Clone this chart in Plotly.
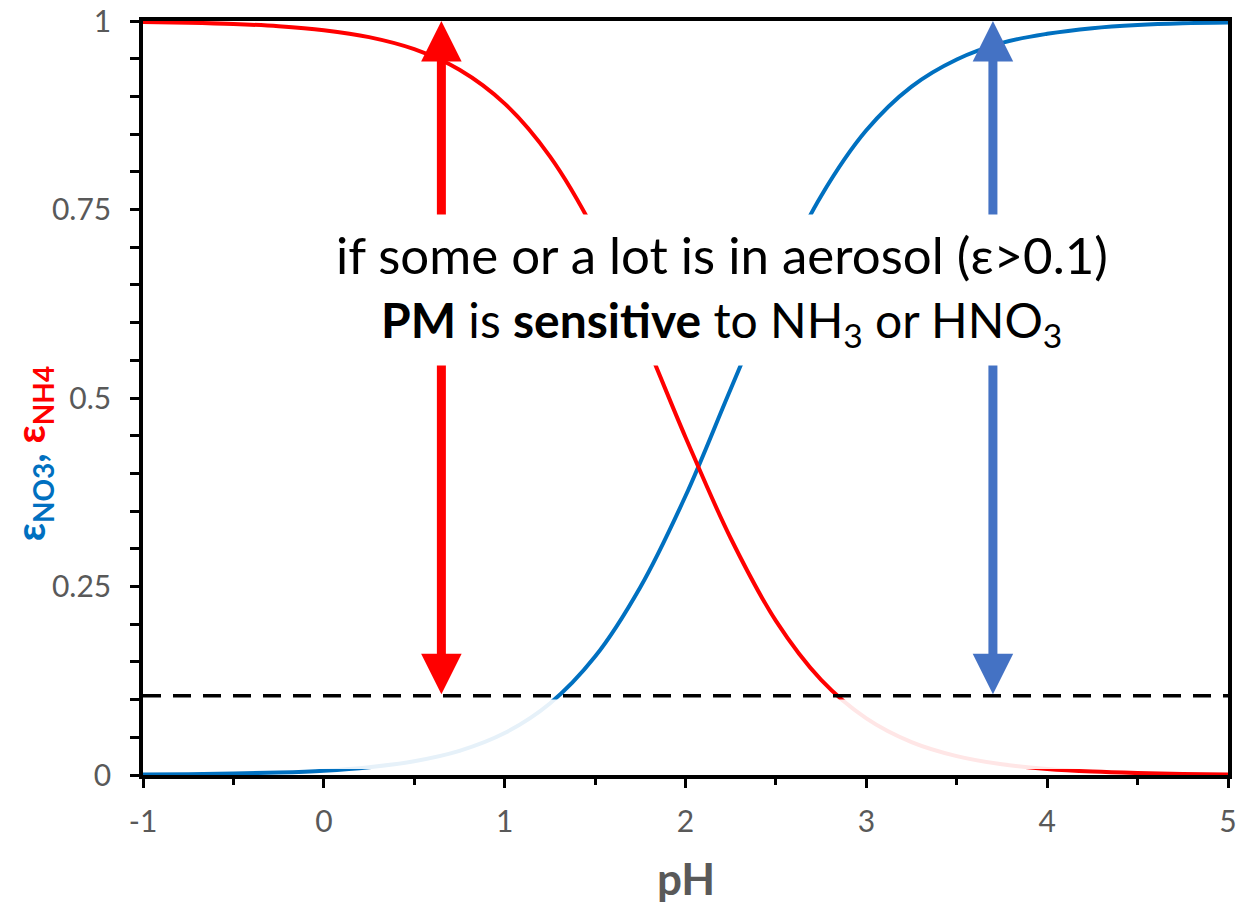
import plotly.graph_objects as go

# ---- data ----
ph = [-1.0, -0.75, -0.5, -0.25, 0.0, 0.25, 0.5, 0.75, 1.0, 1.25, 1.5, 1.75, 2.0,
      2.25, 2.5, 2.75, 3.0, 3.25, 3.5, 3.75, 4.0, 4.25, 4.5, 4.75, 5.0]
eps_no3 = [0.0006, 0.0011, 0.0019, 0.0033, 0.0058, 0.0104, 0.0183, 0.032, 0.0556,
           0.0948, 0.157, 0.249, 0.370, 0.512, 0.651, 0.768, 0.855, 0.913, 0.949,
           0.971, 0.983, 0.9905, 0.9947, 0.997, 0.998]
eps_nh4 = [0.9988, 0.9978, 0.9961, 0.9931, 0.9878, 0.9786, 0.9626, 0.9353, 0.8904,
           0.8205, 0.720, 0.591, 0.448, 0.314, 0.2045, 0.1263, 0.0752, 0.0437,
           0.0251, 0.0142, 0.0081, 0.00455, 0.00256, 0.00144, 0.0008]
threshold_x = [-1, 5]
threshold_y = [0.105, 0.105]
arrow_ph = [0.65, 3.7]
x_tickvals = [-1, 0, 1, 2, 3, 4, 5]
x_ticktext = ["-1", "0", "1", "2", "3", "4", "5"]
y_tickvals = [0, 0.25, 0.5, 0.75, 1]
y_ticktext = ["0", "0.25", "0.5", "0.75", "1"]

BLUE = "#0070C0"
RED = "#FF0000"
ARROW_BLUE = "#4472C4"
GRAY = "#595959"
FONT = "Lato"

fig = go.Figure()
fig.add_trace(go.Scatter(x=ph, y=eps_no3, mode="lines", line=dict(color=BLUE, width=4, shape="spline"),
                         showlegend=False, hoverinfo="skip"))
fig.add_trace(go.Scatter(x=ph, y=eps_nh4, mode="lines", line=dict(color=RED, width=4, shape="spline"),
                         showlegend=False, hoverinfo="skip"))
fig.add_trace(go.Scatter(x=threshold_x, y=threshold_y, mode="lines",
                         line=dict(color="black", width=3.5, dash="18px,12px"),
                         showlegend=False, hoverinfo="skip"))

# faded band below the threshold
fig.add_shape(type="rect", xref="x", yref="y", x0=-1, x1=5, y0=0.008, y1=0.1,
              fillcolor="white", opacity=0.9, line=dict(width=0), layer="above")

ann = []
for xa, col in zip(arrow_ph, [RED, ARROW_BLUE]):
    ann.append(dict(x=xa, y=1, ax=xa, ay=threshold_y[0], xref="x", yref="y", axref="x", ayref="y",
                    text="", showarrow=True, arrowhead=2, startarrowhead=2, arrowside="end+start",
                    arrowsize=0.9, startarrowsize=0.9, arrowwidth=9, arrowcolor=col))
# white box behind the text
ann.append(dict(x=2.2, y=0.643, xref="x", yref="y", text=" ", showarrow=False,
                width=840, height=150, bgcolor="white", borderpad=0))
ann.append(dict(x=2.2, y=0.690, xref="x", yref="y", showarrow=False,
                text="if some or a lot is in aerosol (ε>0.1)",
                font=dict(family=FONT, size=51, color="black")))
ann.append(dict(x=2.2, y=0.599, xref="x", yref="y", showarrow=False,
                text="<b>PM</b> is <b>sensitive</b> to NH<sub>3</sub> or HNO<sub>3</sub>",
                font=dict(family=FONT, size=48, color="black")))
# axis titles
ann.append(dict(x=-0.102, y=0.427, xref="paper", yref="paper", showarrow=False, textangle=-90,
                xanchor="center", yanchor="middle",
                text=f"<b><span style='color:{BLUE}'>ε<sub>NO3</sub>,</span> "
                     f"<span style='color:{RED}'>ε<sub>NH4</sub></span></b>",
                font=dict(family=FONT, size=40, color=BLUE)))
ann.append(dict(x=0.5, y=-0.137, xref="paper", yref="paper", showarrow=False,
                xanchor="center", yanchor="middle", text="<b>pH</b>",
                font=dict(family=FONT, size=44, color=GRAY)))

fig.update_layout(
    width=1237, height=904,
    margin=dict(l=143, r=9, t=21, b=129),
    plot_bgcolor="white", paper_bgcolor="white",
    annotations=ann,
    font=dict(family=FONT, color=GRAY),
)
fig.update_xaxes(range=[-1, 5], tickvals=x_tickvals, ticktext=x_ticktext, automargin=False,
                 showgrid=False, zeroline=False, showline=True, linecolor="black", linewidth=3.5,
                 mirror=True, ticks="outside", ticklen=9, tickwidth=3, tickcolor="black",
                 minor=dict(dtick=0.5, ticks="outside", ticklen=6, tickwidth=3, tickcolor="black", showgrid=False),
                 tickfont=dict(family=FONT, size=30, color=GRAY), ticklabelstandoff=8,
                 layer="below traces")
fig.update_yaxes(range=[0, 1], tickvals=y_tickvals, ticktext=y_ticktext, automargin=False,
                 showgrid=False, zeroline=False, showline=True, linecolor="black", linewidth=3.5,
                 mirror=True, ticks="outside", ticklen=9, tickwidth=3, tickcolor="black",
                 minor=dict(dtick=0.05, ticks="outside", ticklen=9, tickwidth=3, tickcolor="black", showgrid=False),
                 tickfont=dict(family=FONT, size=30, color=GRAY), ticklabelstandoff=13,
                 layer="below traces")

fig.write_html("out.html", config={"displayModeBar": False},
               post_script="document.body.style.margin='0';")
